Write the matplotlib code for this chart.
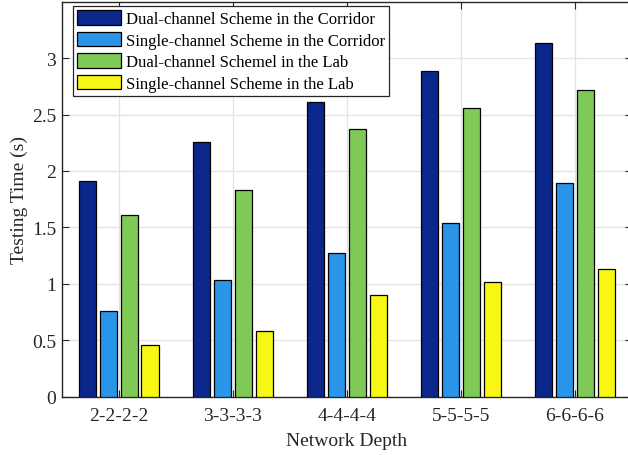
import matplotlib.pyplot as plt
import numpy as np

plt.rcParams["font.family"] = ["Liberation Serif", "DejaVu Serif"]

depths = ["2-2-2-2", "3-3-3-3", "4-4-4-4", "5-5-5-5", "6-6-6-6"]
series_names = [
    "Dual-channel Scheme in the Corridor",
    "Single-channel Scheme in the Corridor",
    "Dual-channel Schemel in the Lab",
    "Single-channel Scheme in the Lab",
]
dual_corridor = [1.915, 2.26, 2.61, 2.885, 3.13]
single_corridor = [0.757, 1.032, 1.271, 1.537, 1.892]
dual_lab = [1.61, 1.832, 2.373, 2.562, 2.716]
single_lab = [0.461, 0.58, 0.899, 1.017, 1.129]

colors = ["#0b278c", "#2a95e8", "#7fca57", "#f7f713"]
offsets = [-0.276, -0.092, 0.092, 0.276]
width = 0.15

fig = plt.figure(figsize=(6.28, 4.56), dpi=100)
ax = fig.add_axes([0.098, 0.128, 0.908, 0.866])

x = np.arange(1, len(depths) + 1)
for vals, name, col, off in zip(
    [dual_corridor, single_corridor, dual_lab, single_lab], series_names, colors, offsets
):
    ax.bar(x + off, vals, width, color=col, edgecolor="black", linewidth=0.9,
           label=name, zorder=3)

ax.set_xlim(0.5, 5.5)
ax.set_ylim(0, 3.5)
ax.set_xticks(x, depths)
ax.set_yticks(np.arange(0, 3.01, 0.5), ["0", "0.5", "1", "1.5", "2", "2.5", "3"])
ax.tick_params(direction="in", length=5, width=0.8, colors="#262626",
               labelsize=14, top=True, right=True, labelcolor="#262626")
ax.tick_params(axis="x", pad=7.5)
ax.tick_params(axis="y", pad=4)
ax.grid(True, color="#e3e3e3", linewidth=0.9, zorder=0)
for s in ax.spines.values():
    s.set_color("#262626")
    s.set_linewidth(1.0)

ax.set_xlabel("Network Depth", fontsize=14, color="#262626", labelpad=6)
ax.set_ylabel("Testing Time (s)", fontsize=14, color="#262626", labelpad=3)

leg = ax.legend(loc="upper left", bbox_to_anchor=(0.0202, 0.989), borderaxespad=0,
                fontsize=12, frameon=True, fancybox=False,
                handlelength=2.6, handleheight=0.95, handletextpad=0.3,
                labelspacing=0.28, borderpad=0.25)
leg.get_frame().set_edgecolor("#262626")
leg.get_frame().set_linewidth(0.9)
leg.get_frame().set_alpha(1)

fig.savefig("out.png", dpi=100)
